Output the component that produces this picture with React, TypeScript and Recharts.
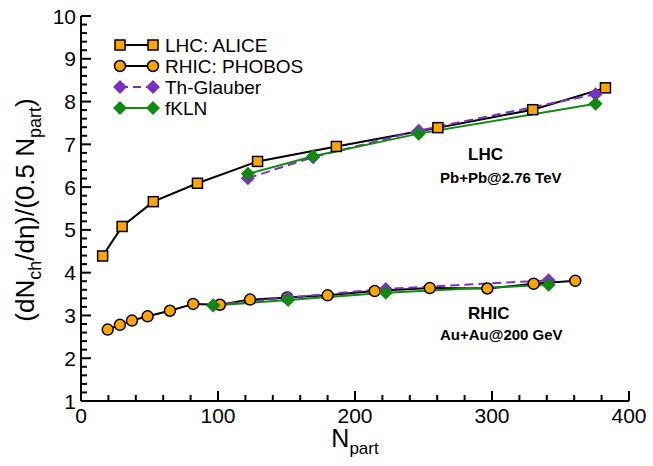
import React from 'react';
import { LineChart, Line, XAxis, YAxis } from 'recharts';

// LHC: ALICE, Pb+Pb 2.76 TeV
const aliceNpart = [15.8, 30.0, 52.8, 85.0, 128.9, 186.4, 260.5, 329.7, 382.8];
const aliceVal = [4.39, 5.08, 5.66, 6.09, 6.6, 6.95, 7.39, 7.81, 8.32];

// RHIC: PHOBOS, Au+Au 200 GeV
const phobosNpart = [19.5, 28.4, 37.2, 48.6, 64.9, 81.9, 101.4, 123.4, 150.5, 180, 214.4, 254.6, 296.6, 330.4, 360.8];
const phobosVal = [2.67, 2.78, 2.88, 2.98, 3.11, 3.27, 3.25, 3.37, 3.42, 3.47, 3.57, 3.64, 3.63, 3.74, 3.81];

// model curves
const lhcModelNpart = [121.8, 169.4, 246.5, 375.6];
const lhcGlauber = [6.21, 6.7, 7.32, 8.17];
const lhcKln = [6.31, 6.72, 7.25, 7.95];

const rhicModelNpart = [96.5, 151.2, 222.5, 341.3];
const rhicGlauber = [3.24, 3.42, 3.62, 3.82];
const rhicKln = [3.23, 3.36, 3.53, 3.72];

const xTicks = [0, 20, 40, 60, 80, 100, 120, 140, 160, 180, 200, 220, 240, 260, 280, 300, 320, 340, 360, 380, 400];
const yTicks = Array.from({ length: 46 }, (_, i) => Math.round((1 + i * 0.2) * 10) / 10);

const pairs = (xs: number[], ys: number[]) => xs.map((x, i) => ({ x, y: ys[i] }));

const FONT = 'Liberation Sans, Arial, Helvetica, sans-serif';
const ORANGE = '#ffa500';
const PURPLE = '#7a30c2';
const GREEN = '#118a11';

const Square = (p: any) => (
  <rect key={`s${p.index}`} x={p.cx - 5} y={p.cy - 5} width={10} height={10} fill={ORANGE} stroke="#000" strokeWidth={1.5} />
);
const Circle = (p: any) => (
  <circle key={`c${p.index}`} cx={p.cx} cy={p.cy} r={5.5} fill={ORANGE} stroke="#000" strokeWidth={1.5} />
);
const diamond = (color: string) => (p: any) => (
  <polygon
    key={`d${p.index}`}
    points={`${p.cx - 7},${p.cy} ${p.cx},${p.cy - 7} ${p.cx + 7},${p.cy} ${p.cx},${p.cy + 7}`}
    fill={color}
    stroke="none"
  />
);

const BottomTick = (p: any) => {
  const v = p.payload.value;
  const major = v % 100 === 0;
  return (
    <g>
      <line x1={p.x} x2={p.x} y1={p.y} y2={p.y - (major ? 10 : 6)} stroke="#000" strokeWidth={2} />
      {major && (
        <text x={p.x} y={p.y + 22} textAnchor="middle" fontSize={21} fontFamily={FONT} fill="#000">{v}</text>
      )}
    </g>
  );
};
const TopTick = (p: any) => {
  const major = p.payload.value % 100 === 0;
  return <line x1={p.x} x2={p.x} y1={p.y} y2={p.y + (major ? 10 : 6)} stroke="#000" strokeWidth={2} />;
};
const LeftTick = (p: any) => {
  const v = p.payload.value;
  const major = Number.isInteger(v);
  return (
    <g>
      <line x1={p.x} x2={p.x + (major ? 10 : 6)} y1={p.y} y2={p.y} stroke="#000" strokeWidth={2} />
      {major && (
        <text x={p.x - 5} y={p.y} dy="0.36em" textAnchor="end" fontSize={21} fontFamily={FONT} fill="#000">{v}</text>
      )}
    </g>
  );
};
const RightTick = (p: any) => {
  const major = Number.isInteger(p.payload.value);
  return <line x1={p.x} x2={p.x - (major ? 10 : 6)} y1={p.y} y2={p.y} stroke="#000" strokeWidth={2} />;
};

const legendItems = ['LHC: ALICE', 'RHIC: PHOBOS', 'Th-Glauber', 'fKLN'];

const Legend = () => {
  const rows = [45, 66, 87, 108];
  return (
    <g fontFamily={FONT} fontSize={19}>
      {legendItems.map((name, i) => {
        const y = rows[i];
        const color = i < 2 ? '#000' : i === 2 ? PURPLE : GREEN;
        const mark = (cx: number) =>
          i === 0 ? Square({ cx, cy: y, index: `l${cx}` })
          : i === 1 ? Circle({ cx, cy: y, index: `l${cx}` })
          : diamond(i === 2 ? PURPLE : GREEN)({ cx, cy: y, index: `l${cx}` });
        return (
          <g key={name}>
            <line x1={120} x2={153} y1={y} y2={y} stroke={color} strokeWidth={2} strokeDasharray={i === 2 ? '8 5' : undefined} />
            {mark(120)}
            {mark(153)}
            <text x={165} y={y + 7} fill="#000">{name}</text>
          </g>
        );
      })}
    </g>
  );
};

const Notes = () => (
  <g fontFamily={FONT} fontWeight="bold" fill="#000">
    <text x={468} y={159.5} fontSize={17}>LHC</text>
    <text x={440} y={182.5} fontSize={15}>Pb+Pb@2.76 TeV</text>
    <text x={468} y={318.5} fontSize={17}>RHIC</text>
    <text x={440} y={339.5} fontSize={15}>Au+Au@200 GeV</text>
  </g>
);

const Titles = () => (
  <g fontFamily={FONT} fill="#000">
    <text x={355} y={447} textAnchor="middle" fontSize={25}>
      N<tspan fontSize={17} dy={7}>part</tspan>
    </text>
    <text x={34} y={210} textAnchor="middle" fontSize={26} transform="rotate(-90, 34, 210)">
      (dN<tspan fontSize={18} dy={7}>ch</tspan>
      <tspan dy={-7}>/dη)/(0.5 N</tspan>
      <tspan fontSize={18} dy={7}>part</tspan>
      <tspan dy={-7}>)</tspan>
    </text>
  </g>
);

export default function App() {
  return (
    <div style={{ position: 'absolute', left: 0, top: 0, background: '#fff' }}>
      <LineChart width={653} height={466} margin={{ top: 16, right: 24, left: 0, bottom: 0 }}>
        <XAxis
          type="number"
          dataKey="x"
          domain={[0, 400]}
          ticks={xTicks}
          interval={0}
          height={65}
          tickSize={0}
          tickMargin={0}
          tick={BottomTick}
          axisLine={{ stroke: '#000', strokeWidth: 2 }}
          allowDataOverflow
        />
        <XAxis
          xAxisId="top"
          orientation="top"
          type="number"
          dataKey="x"
          domain={[0, 400]}
          ticks={xTicks}
          interval={0}
          height={0}
          tickSize={0}
          tickMargin={0}
          tick={TopTick}
          axisLine={{ stroke: '#000', strokeWidth: 2 }}
        />
        <YAxis
          type="number"
          domain={[1, 10]}
          ticks={yTicks}
          interval={0}
          width={81}
          tickSize={0}
          tickMargin={0}
          tick={LeftTick}
          axisLine={{ stroke: '#000', strokeWidth: 2 }}
          allowDataOverflow
        />
        <YAxis
          yAxisId="right"
          orientation="right"
          type="number"
          domain={[1, 10]}
          ticks={yTicks}
          interval={0}
          width={0}
          tickSize={0}
          tickMargin={0}
          tick={RightTick}
          axisLine={{ stroke: '#000', strokeWidth: 2 }}
        />
        <Line data={pairs(aliceNpart, aliceVal)} dataKey="y" stroke="#000" strokeWidth={2} dot={Square} isAnimationActive={false} />
        <Line data={pairs(phobosNpart, phobosVal)} dataKey="y" stroke="#000" strokeWidth={2} dot={Circle} isAnimationActive={false} />
        <Line data={pairs(lhcModelNpart, lhcGlauber)} dataKey="y" stroke={PURPLE} strokeWidth={2} strokeDasharray="9 5" dot={diamond(PURPLE)} isAnimationActive={false} />
        <Line data={pairs(rhicModelNpart, rhicGlauber)} dataKey="y" stroke={PURPLE} strokeWidth={2} strokeDasharray="9 5" dot={diamond(PURPLE)} isAnimationActive={false} />
        <Line data={pairs(lhcModelNpart, lhcKln)} dataKey="y" stroke={GREEN} strokeWidth={2} dot={diamond(GREEN)} isAnimationActive={false} />
        <Line data={pairs(rhicModelNpart, rhicKln)} dataKey="y" stroke={GREEN} strokeWidth={2} dot={diamond(GREEN)} isAnimationActive={false} />
        <Legend />
        <Notes />
        <Titles />
      </LineChart>
    </div>
  );
}
